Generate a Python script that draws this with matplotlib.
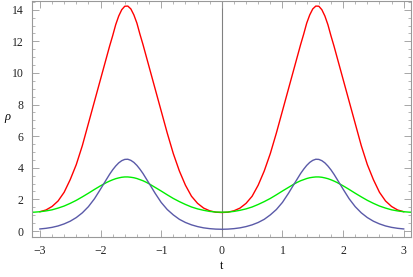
import matplotlib.pyplot as plt
import numpy as np

# valores (mitad positiva, la negativa es el espejo)
t_pos = [0.0, 0.1, 0.2, 0.3, 0.4, 0.5, 0.6, 0.7, 0.8, 0.9, 1.0, 1.1, 1.2,
         1.25, 1.3, 1.35, 1.4, 1.45, 1.5, 1.55, 1.6, 1.65, 1.7, 1.75, 1.8, 1.85, 1.9,
         2.0, 2.1, 2.2, 2.3, 2.4, 2.5, 2.6, 2.7, 2.8, 2.9, 3.0]
rojo_pos = [1.17, 1.19, 1.28, 1.45, 1.75, 2.2, 2.9, 3.8, 4.9, 6.2, 7.6, 9.0, 10.4,
            11.1, 11.8, 12.45, 13.15, 13.67, 14.05, 14.23, 14.22, 14.0, 13.6, 13.05, 12.35, 11.7, 11.0,
            9.6, 8.2, 6.8, 5.4, 4.2, 3.25, 2.45, 1.9, 1.55, 1.33, 1.22]
azul_pos = [0.11, 0.12, 0.15, 0.2, 0.28, 0.39, 0.54, 0.74, 1.02, 1.36, 1.81, 2.39, 3.02,
            3.33, 3.64, 3.91, 4.15, 4.34, 4.47, 4.54, 4.53, 4.45, 4.31, 4.11, 3.87, 3.59, 3.28,
            2.65, 2.04, 1.54, 1.15, 0.85, 0.62, 0.45, 0.32, 0.23, 0.17, 0.13]
# la verde sigue hasta 3.2 (sale del marco)
t_verde_pos = t_pos + [3.1, 3.2]
verde_pos = [1.19, 1.20, 1.24, 1.31, 1.40, 1.52, 1.68, 1.86, 2.06, 2.29, 2.53, 2.76, 2.99,
             3.09, 3.18, 3.25, 3.32, 3.37, 3.40, 3.42, 3.42, 3.40, 3.36, 3.31, 3.24, 3.16, 3.07,
             2.86, 2.63, 2.39, 2.16, 1.94, 1.75, 1.58, 1.45, 1.34, 1.27, 1.22, 1.19, 1.20]

t = [-x for x in t_pos[:0:-1]] + t_pos
t_verde = [-x for x in t_verde_pos[:0:-1]] + t_verde_pos
rojo = rojo_pos[:0:-1] + rojo_pos
azul = azul_pos[:0:-1] + azul_pos
verde = verde_pos[:0:-1] + verde_pos

plt.rcParams['font.family'] = ['Liberation Serif', 'DejaVu Serif']

fig = plt.figure(figsize=(4.13, 2.77), dpi=100)
ax = fig.add_axes([32/413, 1 - 236.7/277, 379/413, 236/277])

ax.axvline(0, color='#808080', lw=0.8, zorder=1)
ax.plot(t, rojo, color='#ff0000', lw=1.0)
ax.plot(t_verde, verde, color='#00ee00', lw=1.0)
ax.plot(t, azul, color='#5a5aa8', lw=1.0)

ax.set_xlim(-3.13, 3.12)
ax.set_ylim(-0.36, 14.57)
ax.set_xticks([-3, -2, -1, 0, 1, 2, 3])
ax.set_xticklabels(['\u22123', '\u22122', '\u22121', '0', '1', '2', '3'])
ax.set_yticks([0, 2, 4, 6, 8, 10, 12, 14])
ax.set_xticks(np.arange(-3.0, 3.01, 0.2), minor=True)
ax.set_yticks(np.arange(0, 14.6, 0.5), minor=True)

for s in ax.spines.values():
    s.set_color('#999999')
    s.set_linewidth(0.8)
ax.tick_params(which='both', direction='in', top=True, right=True,
               color='#999999', labelsize=8.5, labelcolor='#222222')
ax.tick_params(which='major', length=5, width=0.6, pad=6)
ax.tick_params(which='minor', length=2.5, width=0.5)

ax.set_xlabel('t', fontsize=8.5)
ax.xaxis.set_label_coords(0.5, -0.098)
ax.set_ylabel('\u03c1', fontsize=9, rotation=0, style='italic')
ax.yaxis.set_label_coords(-0.065, 0.48)

fig.savefig('out.png', dpi=100)
